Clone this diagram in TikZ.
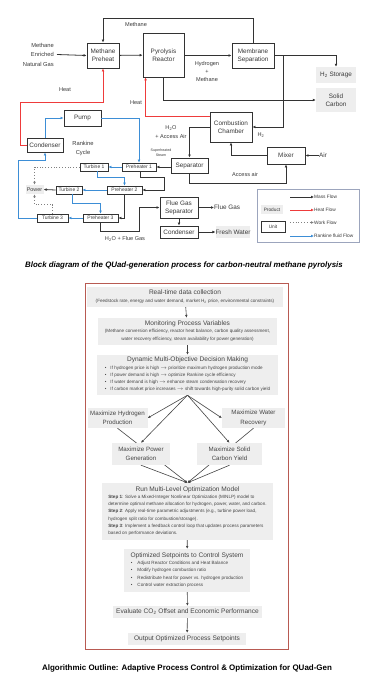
\documentclass[tikz,border=0pt]{standalone}
\usepackage{fontspec}
\setmainfont{Liberation Sans}
\usepackage{xcolor}
\usepackage{tikz}
\usetikzlibrary{arrows.meta, positioning, calc, backgrounds}
\definecolor{qgink}{HTML}{3A3A3A}
\definecolor{qgline}{HTML}{333333}
\definecolor{qgred}{HTML}{EE3B3B}
\definecolor{qgblue}{HTML}{3D8ED6}
\definecolor{qggray}{HTML}{808080}
\definecolor{prodbg}{HTML}{EEEEEE}
\definecolor{stepbg}{HTML}{EEEEEE}
\definecolor{steptext}{HTML}{454545}
\definecolor{framered}{HTML}{B85A52}
\definecolor{legline}{HTML}{9CA5BD}
\newcommand{\unitfs}{\fontsize{6.4}{7.8}\selectfont}
\newcommand{\rkfs}{\fontsize{5.0}{5.6}\selectfont}
\newcommand{\lblfs}{\fontsize{5.6}{8.5}\selectfont}
\newcommand{\keyfs}{\fontsize{4.8}{5.6}\selectfont}
\newcommand{\fctitle}{\fontsize{6.6}{8}\selectfont}
\newcommand{\fcbody}{\fontsize{4.6}{7.2}\selectfont}
\tikzset{
  unit/.style={rectangle, draw=qgline, line width=0.9bp, fill=white, text=qgink,
    align=center, inner sep=0pt, font=\unitfs},
  rkunit/.style={unit, line width=0.8bp, font=\rkfs},
  product/.style={rectangle, fill=prodbg, text=qgink, align=center,
    inner sep=0pt, font=\unitfs},
  lbl/.style={text=qgink, align=center, inner sep=0pt, font=\lblfs},
  mass/.style={-{Latex[length=3bp,width=2.8bp]}, line width=0.8bp, qgline},
  heat/.style={mass, qgred},
  work/.style={mass, qggray, dotted},
  rank/.style={mass, qgblue},
  stepbox/.style={rectangle, fill=stepbg, text=steptext, align=center,
    inner sep=0pt, font=\fctitle},
  objbox/.style={stepbox, font=\fontsize{6.2}{9.5}\selectfont},
  far/.style={-{Latex[length=2.8bp,width=2.6bp]}, line width=0.6bp, steptext},
  caption/.style={text=black, inner sep=0pt},
}
\begin{document}
\begin{tikzpicture}[x=1bp, y=-1bp]
  \begin{scope}[on background layer]
    \fill[white] (0,0) rectangle (383,700);
  \end{scope}
  \useasboundingbox (0,0) rectangle (383,700);

  % process block diagram
  \node[lbl, align=right, anchor=east, font=\fontsize{5.8}{9.5}\selectfont] (feed) at (54,54.5) {Methane\\Enriched\\Natural Gas};
  \node[unit, minimum width=32bp, minimum height=25bp] (preheat) at (103,55.5) {Methane\\Preheat};
  \node[unit, minimum width=41bp, minimum height=44bp] (reactor) at (163.5,55) {Pyrolysis\\Reactor};
  \node[unit, minimum width=42bp, minimum height=25bp] (membrane) at (253,55.5) {Membrane\\Separation};
  \node[product, minimum width=40bp, minimum height=16bp] (h2store) at (336,75) {H\textsubscript{2} Storage};
  \node[product, minimum width=40bp, minimum height=24bp] (carbon) at (336,100) {Solid\\Carbon};
  \node[unit, minimum width=42bp, minimum height=30bp] (combust) at (231,127) {Combustion\\Chamber};
  \node[unit, minimum width=38bp, minimum height=17bp] (mixer) at (286,155.5) {Mixer};
  \node[unit, minimum width=37bp, minimum height=15bp] (sep) at (189.5,165.5) {Separator};
  \node[unit, minimum width=37bp, minimum height=16bp] (pump) at (82.5,118) {Pump};
  \node[unit, minimum width=36bp, minimum height=14bp] (condA) at (45,145) {Condenser};
  \node[rkunit, minimum width=28bp, minimum height=8bp] (turbine1) at (94,167) {Turbine 1};
  \node[rkunit, minimum width=34bp, minimum height=8bp] (preheater1) at (139,167) {Preheater 1};
  \node[rkunit, minimum width=26bp, minimum height=8bp] (turbine2) at (69,190) {Turbine 2};
  \node[rkunit, minimum width=35bp, minimum height=8bp] (preheater2) at (124.5,190) {Preheater 2};
  \node[rkunit, minimum width=31bp, minimum height=8bp] (turbine3) at (52.5,218) {Turbine 3};
  \node[rkunit, minimum width=35bp, minimum height=8bp] (preheater3) at (100.5,218) {Preheater 3};
  \node[product, font=\fontsize{5.4}{6}\selectfont, minimum width=18bp, minimum height=9bp] (power) at (34.5,189.5) {Power};
  \node[unit, minimum width=38bp, minimum height=21bp] (fluesep) at (179,207.5) {Flue Gas\\Separator};
  \node[unit, minimum width=38bp, minimum height=12bp] (condB) at (179,232) {Condenser};
  \node[product, minimum width=34bp, minimum height=12bp] (fresh) at (233,232) {Fresh Water};
  \node[lbl, anchor=west, font=\unitfs] (fluegas) at (214,207.5) {Flue Gas};
  \node[lbl, anchor=west, font=\unitfs] (air) at (319,155.5) {Air};

  % flow labels
  \node[lbl] (lbmeth) at (136,25) {Methane};
  \node[lbl] (lbhm) at (207,71.5) {Hydrogen\\+\\Methane};
  \node[lbl] (lbheatA) at (65,90) {Heat};
  \node[lbl] (lbheatB) at (136,103) {Heat};
  \node[lbl] (lbhtwo) at (261,135) {H\textsubscript{2}};
  \node[lbl, font=\fontsize{5.6}{9}\selectfont] (lbwater) at (171,132.5) {H\textsubscript{2}O\\+ Access Air};
  \node[lbl, font=\fontsize{3.6}{5}\selectfont] (lbsteam) at (161,152.5) {Superheated\\Steam};
  \node[lbl, font=\fontsize{5.8}{9}\selectfont] (lbrank) at (83,148.5) {Rankine\\Cycle};
  \node[lbl] (lbaccess) at (245,175) {Access air};
  \node[lbl] (lbflue) at (125,239) {H\textsubscript{2}O + Flue Gas};

  % mass flows
  \draw[mass] ([xshift=3bp]feed.east) -- (preheat.west);
  \draw[mass] (preheat) -- (reactor);
  \draw[mass] (reactor.east |- membrane) -- (membrane.west);
  \draw[mass] (membrane.north) -- ($(membrane.north)+(0,-24)$) -| (preheat.north);
  \draw[mass] (membrane.east) -| (h2store.north);
  \coordinate (h2split) at (283,55.5);
  \draw[mass] (h2split) |- (combust.east);
  \draw[mass] (reactor.south) |- (carbon.west);
  \draw[mass] (combust.west) -| (sep.north);
  \draw[mass] (mixer.west) -| (combust.south);
  \draw[mass] (air.west) -- (mixer.east);
  \draw[mass] (sep.south) -- ++(0,10) -| (mixer.south);
  \draw[mass] (sep.west |- preheater1.east) -- (preheater1.east);
  \draw[mass] ([xshift=1bp]preheater1.south) |- ++(24,6) |- (preheater2.east);
  \draw[mass] (preheater2.south) |- (preheater3.east);
  \draw[mass] (preheater3.south) -- ++(0,9) -| ($(fluesep.west)+(-20,0)$) -- (fluesep.west);
  \draw[mass] (turbine2.west) -- (power.east);
  \draw[mass] (fluesep.east) -- (fluegas.west);
  \draw[mass] (fluesep.south) -- (condB.north);
  \draw[mass] (condB.east) -- (fresh.west);

  % heat flows
  \draw[heat] (combust.west |- 0,116) -| ([xshift=3bp]reactor.south west);
  \draw[heat] (condA.west) -- ++(-6,0) |- ($(preheat.south)+(0,34)$) -- (preheat.south);

  % rankine fluid
  \draw[rank] (condA.north) |- (pump.west);
  \draw[rank] (pump.east) -| (preheater1.north);
  \draw[rank] (preheater1.west) -- (turbine1.east);
  \draw[rank] ([xshift=3bp]turbine1.south) -- ++(0,6) -| (preheater2.north);
  \draw[rank] (preheater2.west) -- (turbine2.east);
  \draw[rank] ([xshift=3bp]turbine2.south) -- ++(0,9) -| (preheater3.north);
  \draw[rank] (preheater3.west) -- (turbine3.east);
  \draw[rank] (turbine3.west) -- ++(-18,0) |- ($(condA.south)+(0,8)$) -- (condA.south);

  % work flows
  \draw[work] (turbine1.west) -| (power.north);
  \draw[work] (turbine3.north) -- ++(0,-9) -| (power.south);

  % legend
  \node[draw=legline, line width=0.8bp, minimum width=102bp, minimum height=53bp] (legend) at (308,215.5) {};
  \node[lbl, anchor=west, font=\keyfs] (kmass) at (314,197) {Mass Flow};
  \node[lbl, anchor=west, font=\keyfs] (kheat) at (314,210) {Heat Flow};
  \node[lbl, anchor=west, font=\keyfs] (kwork) at (314,222.5) {Work Flow};
  \node[lbl, anchor=west, font=\keyfs] (krank) at (314,236) {Rankine fluid Flow};
  \node[product, font=\keyfs, minimum width=22bp, minimum height=9bp] (kprod) at (272,209.5) {Product};
  \node[unit, font=\keyfs, minimum width=24bp, minimum height=11bp] (kunit) at (273,226.5) {Unit};
  \draw[mass] ($(kmass.west)+(-24,0)$) -- (kmass.west);
  \draw[heat] ($(kheat.west)+(-24,0)$) -- (kheat.west);
  \draw[work] ($(kwork.west)+(-24,0)$) -- (kwork.west);
  \draw[rank] ($(krank.west)+(-24,0)$) -- (krank.west);

  \node[caption, font=\fontsize{7.9}{9}\selectfont\bfseries\itshape] (capblock) at (184,265) {Block diagram of the QUad-generation process for carbon-neutral methane pyrolysis};

  % adaptive control algorithm
  \node[draw=framered, line width=0.9bp, minimum width=203bp, minimum height=366bp] (algoframe) at (186.5,466) {};
  \node[stepbox, minimum width=196bp, minimum height=20bp] (rtdata) at (185,297) {Real-time data collection\\
    \fcbody (Feedstock rate, energy and water demand, market H\textsubscript{2} price, environmental constraints)};
  \node[stepbox, minimum width=179bp, minimum height=27bp] (monitor) at (187.5,331.5) {Monitoring Process Variables\\
    \fcbody\begin{tabular}{@{}c@{}}(Methane conversion efficiency, reactor heat balance, carbon quality assessment,\\
    water recovery efficiency, steam availability for power generation)\end{tabular}};
  \node[stepbox, minimum width=181bp, minimum height=40bp] (decide) at (187.5,375) {Dynamic Multi-Objective Decision Making\\
    \fcbody\begin{tabular}{@{}l@{\hspace{4bp}}l@{}}
    \textbullet & If hydrogen price is high $\rightarrow$ prioritize maximum hydrogen production mode\\
    \textbullet & If power demand is high $\rightarrow$ optimize Rankine cycle efficiency\\
    \textbullet & If water demand is high $\rightarrow$ enhance steam condensation recovery\\
    \textbullet & If carbon market price increases $\rightarrow$ shift towards high-purity solid carbon yield
    \end{tabular}};
  \node[objbox, minimum width=60bp, minimum height=20bp] (maxhyd) at (117.5,418) {Maximize Hydrogen\\Production};
  \node[objbox, minimum width=63bp, minimum height=20bp] (maxwat) at (253.5,418) {Maximize Water\\Recovery};
  \node[objbox, minimum width=58bp, minimum height=22bp] (maxpow) at (141,454) {Maximize Power\\Generation};
  \node[objbox, minimum width=65bp, minimum height=22bp] (maxsol) at (229.5,454) {Maximize Solid\\Carbon Yield};
  \node[stepbox, minimum width=171bp, minimum height=57bp] (optmodel) at (187.5,511.5) {Run Multi-Level Optimization Model\\
    \fcbody\begin{tabular}{@{}l@{}}
    \textbf{Step 1}: Solve a Mixed-Integer Nonlinear Optimization (MINLP) model to\\
    determine optimal methane allocation for hydrogen, power, water, and carbon.\\
    \textbf{Step 2}: Apply real-time parametric adjustments (e.g., turbine power load,\\
    hydrogen split ratio for combustion/storage).\\
    \textbf{Step 3}: Implement a feedback control loop that updates process parameters\\
    based on performance deviations.
    \end{tabular}};
  \node[stepbox, minimum width=126bp, minimum height=43bp] (setpts) at (187,570.5) {Optimized Setpoints to Control System\\
    \fcbody\begin{tabular}{@{}l@{\hspace{5bp}}l@{}}
    \textbullet & Adjust Reactor Conditions and Heat Balance\\
    \textbullet & Modify hydrogen combustion ratio\\
    \textbullet & Redistribute heat for power vs. hydrogen production\\
    \textbullet & Control water extraction process
    \end{tabular}};
  \node[stepbox, minimum width=149bp, minimum height=12bp] (evaluate) at (187.5,612) {Evaluate CO\textsubscript{2} Offset and Economic Performance};
  \node[stepbox, minimum width=118bp, minimum height=12bp] (output) at (187,639) {Output Optimized Process Setpoints};

  \draw[far] (rtdata) -- (monitor);
  \draw[far] (monitor) -- (decide);
  \draw[far] (optmodel) -- (setpts);
  \draw[far] (setpts) -- (evaluate);
  \draw[far] (evaluate) -- (output);
  \begin{scope}[on background layer]
    \draw[far] (decide.south) -- (maxhyd.east);
    \draw[far] (decide.south) -- (maxwat.west);
    \draw[far] (decide.south) -- (maxpow.north);
    \draw[far] (decide.south) -- (maxsol.north);
    \draw[far] (maxhyd.south) -- (optmodel.north);
    \draw[far] (maxwat.south) -- (optmodel.north);
    \draw[far] (maxpow.south) -- (optmodel.north);
    \draw[far] (maxsol.south) -- (optmodel.north);
  \end{scope}

  \node[caption, font=\fontsize{8}{9}\selectfont\bfseries] (capalgo) at (187,668) {Algorithmic Outline: Adaptive Process Control \& Optimization for QUad-Gen};
\end{tikzpicture}
\end{document}
